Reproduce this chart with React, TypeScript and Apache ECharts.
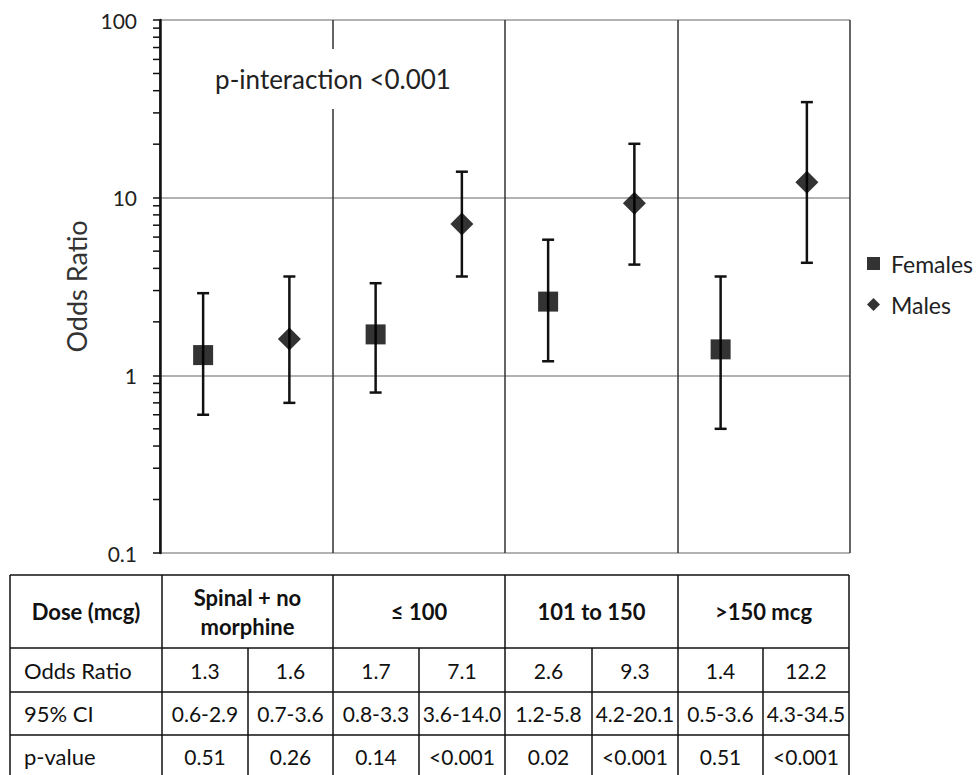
import React, { useEffect, useRef } from "react";
import * as echarts from "echarts";

const doseGroups = ["Spinal + no\nmorphine", "≤ 100", "101 to 150", ">150 mcg"];
const femaleOR = [1.3, 1.7, 2.6, 1.4];
const femaleLow = [0.6, 0.8, 1.2, 0.5];
const femaleHigh = [2.9, 3.3, 5.8, 3.6];
const maleOR = [1.6, 7.1, 9.3, 12.2];
const maleLow = [0.7, 3.6, 4.2, 4.3];
const maleHigh = [3.6, 14.0, 20.1, 34.5];
const femaleP = ["0.51", "0.14", "0.02", "0.51"];
const maleP = ["0.26", "<0.001", "<0.001", "<0.001"];
const decades = [0.1, 1, 10];
const minorSteps = [2, 3, 4, 5, 6, 7, 8, 9];
const rowLabels = ["Odds Ratio", "95% CI", "p-value"];
const headerLabel = "Dose (mcg)";
const interactionText = "p-interaction <0.001";

const FONT = "Lato, 'Open Sans', sans-serif";

export default function App() {
  const ref = useRef<HTMLDivElement>(null);
  useEffect(() => {
    if (!ref.current) return;
    const chart = echarts.init(ref.current, undefined, { renderer: "svg" });

    const femaleData = femaleOR.map((v, g) => [g * 2 + 0.5, v]);
    const maleData = maleOR.map((v, g) => [g * 2 + 1.5, v]);
    const errData = [
      ...femaleOR.map((_, g) => [g * 2 + 0.5, femaleLow[g], femaleHigh[g]]),
      ...maleOR.map((_, g) => [g * 2 + 1.5, maleLow[g], maleHigh[g]]),
    ];
    const minorData: number[][] = [];
    decades.forEach((d) => minorSteps.forEach((s) => minorData.push([0, +(d * s).toPrecision(3)])));

    // table layout
    const colEdges = [10, 162, 248, 333, 419, 505, 592, 678, 763, 849];
    const rowEdges = [575, 648, 692, 735, 778];
    const lineStyle = { stroke: "#111", lineWidth: 1.5 };
    const els: any[] = [];
    rowEdges.forEach((y) =>
      els.push({ type: "line", shape: { x1: colEdges[0], y1: y, x2: colEdges[colEdges.length - 1], y2: y }, style: lineStyle })
    );
    colEdges.forEach((x, i) => {
      const isInner = i >= 2 && i < colEdges.length - 1 && i % 2 === 0;
      const y1 = isInner ? rowEdges[1] : rowEdges[0];
      els.push({ type: "line", shape: { x1: x, y1, x2: x, y2: rowEdges[rowEdges.length - 1] }, style: lineStyle });
    });
    const headerY = (rowEdges[0] + rowEdges[1]) / 2;
    els.push({
      type: "text",
      x: (colEdges[0] + colEdges[1]) / 2,
      y: headerY,
      style: { text: headerLabel, font: `bold 22px ${FONT}`, fill: "#111", align: "center", verticalAlign: "middle" },
    });
    doseGroups.forEach((g, i) => {
      els.push({
        type: "text",
        x: (colEdges[1 + i * 2] + colEdges[3 + i * 2]) / 2,
        y: headerY,
        style: {
          text: g,
          font: `bold 22px ${FONT}`,
          fill: "#111",
          align: "center",
          verticalAlign: "middle",
          lineHeight: 29,
        },
      });
    });
    const rowValues: string[][] = [[], [], []];
    for (let g = 0; g < 4; g++) {
      rowValues[0].push(femaleOR[g].toFixed(1), maleOR[g].toFixed(1));
      rowValues[1].push(
        `${femaleLow[g].toFixed(1)}-${femaleHigh[g].toFixed(1)}`,
        `${maleLow[g].toFixed(1)}-${maleHigh[g].toFixed(1)}`
      );
      rowValues[2].push(femaleP[g], maleP[g]);
    }
    rowLabels.forEach((lab, r) => {
      const cy = (rowEdges[r + 1] + rowEdges[r + 2]) / 2;
      els.push({
        type: "text",
        x: colEdges[0] + 14,
        y: cy,
        style: { text: lab, font: `22px ${FONT}`, fill: "#111", align: "left", verticalAlign: "middle" },
      });
      rowValues[r].forEach((v, c) => {
        els.push({
          type: "text",
          x: (colEdges[c + 1] + colEdges[c + 2]) / 2,
          y: cy,
          style: { text: v, font: `21px ${FONT}`, fill: "#111", align: "center", verticalAlign: "middle" },
        });
      });
    });
    els.push({
      type: "text",
      x: 333,
      y: 79,
      z: 100,
      style: {
        text: interactionText,
        font: `26px ${FONT}`,
        fill: "#222",
        align: "center",
        verticalAlign: "middle",
        backgroundColor: "#fff",
        padding: [17, 4],
      },
    });

    chart.setOption({
      animation: false,
      backgroundColor: "#fff",
      grid: { left: 160, right: 126, top: 20, bottom: 222, containLabel: false },
      legend: {
        orient: "vertical",
        left: 862,
        top: 247,
        itemWidth: 13,
        itemHeight: 13,
        itemGap: 18,
        textStyle: { fontSize: 23, color: "#222", fontFamily: FONT, padding: [0, 0, 0, 6] },
        data: [
          { name: "Females", icon: "rect" },
          { name: "Males", icon: "diamond" },
        ],
      },
      xAxis: {
        type: "value",
        min: 0,
        max: 8,
        interval: 2,
        axisLabel: { show: false },
        axisTick: { show: false },
        axisLine: { show: false },
        splitLine: { show: true, lineStyle: { color: "#333", width: 1.5 } },
      },
      yAxis: {
        type: "log",
        logBase: 10,
        min: 0.1,
        max: 100,
        name: "Odds Ratio",
        nameLocation: "middle",
        nameGap: 61,
        nameTextStyle: { fontSize: 27, color: "#333", fontFamily: FONT },
        axisLine: { show: true, lineStyle: { color: "#111", width: 2.5 } },
        axisTick: { show: true, length: 7, lineStyle: { color: "#111", width: 1.5 } },
        axisLabel: {
          margin: 23,
          fontSize: 21,
          color: "#222",
          fontFamily: FONT,
          formatter: (v: number) => String(+v.toPrecision(3)),
        },
        splitLine: { show: true, lineStyle: { color: "#999", width: 1.5 } },
      },
      series: [
        {
          type: "custom",
          name: "minorTicks",
          silent: true,
          clip: false,
          data: minorData,
          encode: { x: 0, y: 1 },
          renderItem: (params: any, api: any) => {
            const p = api.coord([0, api.value(1)]);
            return {
              type: "line",
              shape: { x1: p[0] - 7, y1: p[1], x2: p[0], y2: p[1] },
              style: { stroke: "#111", lineWidth: 1.5 },
            };
          },
          z: 3,
        },
        {
          type: "custom",
          name: "errorBars",
          silent: true,
          data: errData,
          encode: { x: 0, y: [1, 2] },
          renderItem: (params: any, api: any) => {
            const x = api.value(0);
            const lo = api.coord([x, api.value(1)]);
            const hi = api.coord([x, api.value(2)]);
            const hw = 6;
            const st = { stroke: "#111", lineWidth: 2.5 };
            return {
              type: "group",
              children: [
                { type: "line", shape: { x1: lo[0], y1: lo[1], x2: hi[0], y2: hi[1] }, style: st },
                { type: "line", shape: { x1: lo[0] - hw, y1: lo[1], x2: lo[0] + hw, y2: lo[1] }, style: st },
                { type: "line", shape: { x1: hi[0] - hw, y1: hi[1], x2: hi[0] + hw, y2: hi[1] }, style: st },
              ],
            };
          },
          z: 4,
        },
        {
          type: "scatter",
          name: "Females",
          symbol: "rect",
          symbolSize: 20,
          itemStyle: { color: "#000" },
          data: femaleData,
          z: 5,
        },
        {
          type: "scatter",
          name: "Males",
          symbol: "diamond",
          symbolSize: 23,
          itemStyle: { color: "#000" },
          data: maleData,
          z: 5,
        },
      ],
      graphic: els,
    });
    return () => chart.dispose();
  }, []);
  return <div ref={ref} style={{ position: "absolute", left: 0, top: 0, width: 976, height: 775 }} />;
}
